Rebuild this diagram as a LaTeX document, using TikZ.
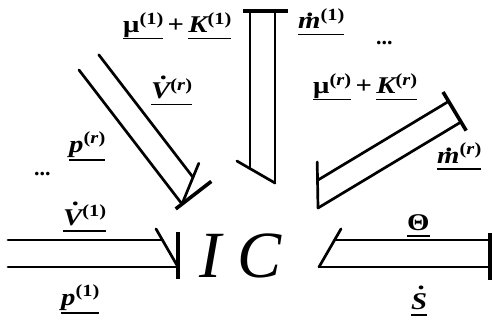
\documentclass[tikz,border=0pt]{standalone}
\usepackage{fontspec}
\setmainfont{Liberation Serif}
\newcommand\sps[1]{\raisebox{8.5pt}{\fontsize{17}{17}\selectfont\upshape\bfseries #1}}
\newcommand\ulx[2][6.5pt]{\setbox0\hbox{#2}\rlap{\rule[-#1]{\wd0}{1.9pt}}\box0}
\newcommand\dt[3]{\setbox2\hbox{#3}\rlap{\hbox to\wd2{\hss\kern#2\raisebox{#1}{.}\hss}}\box2}
\newcommand\plus{\hspace{0.15em}\textup{+}\hspace{0.15em}}
\tikzset{
  pipe/.style={line width=2.7pt, line cap=round},
  wall/.style={line width=3.6pt},
  lbl/.style={anchor=base west, inner sep=0pt, xscale=1.2, font=\fontsize{24}{26}\selectfont\bfseries\itshape},
  dotsty/.style={anchor=base west, inner sep=0pt, font=\fontsize{22}{24}\selectfont\bfseries},
}
\begin{document}
\begin{tikzpicture}[x=1pt,y=-1pt]
\useasboundingbox (0,0) rectangle (492,326);
% central text
\node[anchor=base west, inner sep=0pt, font=\fontsize{66}{70}\selectfont\itshape] (ic) at (199,277) {I C};
% left pipe A
\coordinate (a1) at (8,240); \coordinate (a2) at (162.4,240);
\coordinate (a3) at (8,267); \coordinate (a4) at (178,267);
\coordinate (ah) at (156,228.9);
\coordinate (aw1) at (178,232); \coordinate (aw2) at (178,279);
\draw[pipe] (a1) -- (a2);
\draw[pipe] (a3) -- (a4);
\draw[pipe] (a4) -- (ah);
\draw[wall] (aw1) -- (aw2);
% top pipe B
\coordinate (b1) at (250,11); \coordinate (b2) at (250,168.6);
\coordinate (b3) at (275,11); \coordinate (b4) at (275,183);
\coordinate (bh) at (236.9,161);
\coordinate (bw1) at (243,11); \coordinate (bw2) at (288,11);
\draw[pipe] (b1) -- (b2);
\draw[pipe] (b3) -- (b4);
\draw[pipe] (b4) -- (bh);
\draw[wall] (bw1) -- (bw2);
% upper-left diagonal pipe C
\coordinate (c1) at (79,70); \coordinate (c2) at (182,204);
\coordinate (c3) at (98.8,54.8); \coordinate (c4) at (193,177.3);
\coordinate (ch) at (198.8,163.3);
\coordinate (cw1) at (175.7,208.9); \coordinate (cw2) at (211.3,181.4);
\draw[pipe] (c1) -- (c2);
\draw[pipe] (c3) -- (c4);
\draw[pipe] (c2) -- (ch);
\draw[wall] (cw1) -- (cw2);
% right bottom pipe D
\coordinate (d1) at (334.6,240); \coordinate (d2) at (490,240);
\coordinate (d3) at (319,267); \coordinate (d4) at (490,267);
\coordinate (dh) at (341,228.9);
\coordinate (dw1) at (490,233); \coordinate (dw2) at (490,280);
\draw[pipe] (d1) -- (d2);
\draw[pipe] (d3) -- (d4);
\draw[pipe] (d3) -- (dh);
\draw[wall] (dw1) -- (dw2);
% right diagonal pipe E
\coordinate (e1) at (461,122); \coordinate (e2) at (318,208);
\coordinate (e3) at (448.6,101.4); \coordinate (e4) at (317.5,180.3);
\coordinate (eh) at (317.2,162);
\coordinate (ew1) at (443,92); \coordinate (ew2) at (466.2,130.6);
\draw[pipe] (e1) -- (e2);
\draw[pipe] (e3) -- (e4);
\draw[pipe] (e2) -- (eh);
\draw[wall] (ew1) -- (ew2);
% labels
\node[lbl] (l1) at (123,33) {\ulx{\textup{μ}\sps{(1)}}\plus\ulx{K\sps{(1)}}};
\node[lbl] (l2) at (298,29) {\ulx{\dt{0.5em}{0.1em}{m}\sps{(1)}}};
\node[lbl] (l3) at (313,94) {\ulx{\textup{μ}\sps{(\textit{r})}}\plus\ulx{K\sps{(\textit{r})}}};
\node[lbl] (l4) at (437,163) {\ulx{\dt{0.5em}{0.1em}{m}\sps{(\textit{r})}}};
\node[lbl] (l5) at (407,230) {\ulx{\textup{Θ}}};
\node[lbl] (l6) at (411,309) {\ulx{\dt{0.8em}{0.2em}{S}}};
\node[lbl] (l7) at (63,225) {\ulx{\dt{0.8em}{0.25em}{V}\sps{(1)}}};
\node[lbl] (l8) at (61,305) {\ulx[9pt]{p\sps{(1)}}};
\node[lbl] (l9) at (151,99) {\ulx{\dt{0.8em}{0.25em}{V}\sps{(\textit{r})}}};
\node[lbl] (l10) at (69,152) {\ulx[9pt]{p\sps{(\textit{r})}}};
\node[dotsty] (dots1) at (34,175) {...};
\node[dotsty] (dots2) at (376,45) {...};
\end{tikzpicture}
\end{document}
